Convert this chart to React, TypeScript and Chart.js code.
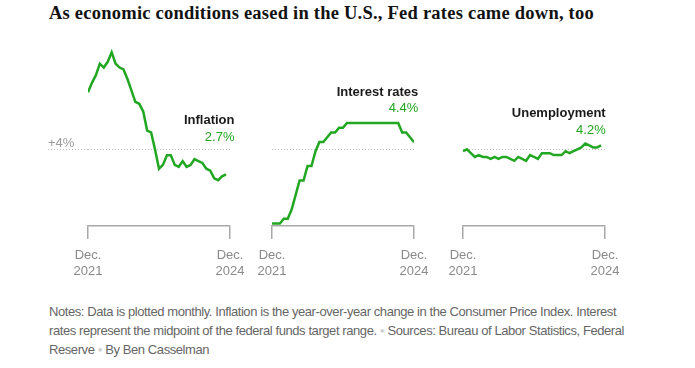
import { useEffect, useRef } from 'react';
import { Chart, registerables } from 'chart.js';

Chart.register(...registerables);

// ---------- data ----------
const months = [
  'Dec 2021',
  'Jan 2022', 'Feb 2022', 'Mar 2022', 'Apr 2022', 'May 2022', 'Jun 2022',
  'Jul 2022', 'Aug 2022', 'Sep 2022', 'Oct 2022', 'Nov 2022', 'Dec 2022',
  'Jan 2023', 'Feb 2023', 'Mar 2023', 'Apr 2023', 'May 2023', 'Jun 2023',
  'Jul 2023', 'Aug 2023', 'Sep 2023', 'Oct 2023', 'Nov 2023', 'Dec 2023',
  'Jan 2024', 'Feb 2024', 'Mar 2024', 'Apr 2024', 'May 2024', 'Jun 2024',
  'Jul 2024', 'Aug 2024', 'Sep 2024', 'Oct 2024', 'Nov 2024', 'Dec 2024',
];

// CPI, year-over-year % (Dec 2021 – Nov 2024)
const inflation = [
  7.0,
  7.5, 7.9, 8.5, 8.3, 8.6, 9.1, 8.5, 8.3, 8.2, 7.7, 7.1, 6.5,
  6.4, 6.0, 5.0, 4.9, 4.0, 3.0, 3.2, 3.7, 3.7, 3.2, 3.1, 3.4,
  3.1, 3.2, 3.5, 3.4, 3.3, 3.0, 2.9, 2.5, 2.4, 2.6, 2.7,
];

// Midpoint of federal funds target range % (Dec 2021 – Dec 2024)
const interestRates = [
  0.125,
  0.125, 0.125, 0.375, 0.375, 0.875, 1.625, 2.375, 2.375, 3.125, 3.125, 3.875, 4.375,
  4.375, 4.625, 4.875, 4.875, 5.125, 5.125, 5.375, 5.375, 5.375, 5.375, 5.375, 5.375,
  5.375, 5.375, 5.375, 5.375, 5.375, 5.375, 5.375, 5.375, 4.875, 4.875, 4.625, 4.375,
];

// Unemployment rate % (Dec 2021 – Nov 2024)
const unemployment = [
  3.9,
  4.0, 3.8, 3.6, 3.7, 3.6, 3.6, 3.5, 3.6, 3.5, 3.6, 3.6, 3.5,
  3.4, 3.6, 3.5, 3.4, 3.7, 3.6, 3.5, 3.8, 3.8, 3.8, 3.7, 3.7,
  3.7, 3.9, 3.8, 3.9, 4.0, 4.1, 4.3, 4.2, 4.1, 4.1, 4.2,
];

const panelNames = ['Inflation', 'Interest rates', 'Unemployment'];
const panelValueLabels = ['2.7%', '4.4%', '4.2%'];
const xTickLabels = [['Dec.', '2021'], ['Dec.', '2024']];
const yTickValues = [4];
const yTickLabels = ['+4%'];
const yMin = 0;
const yMax = 9.7;

// ---------- styles ----------
const GREEN = '#22a722';
const SANS = "'Liberation Sans', Arial, sans-serif";

const CANVAS_TOP = 30;
const CANVAS_H = 257;
const PAD = 30;
const AREA_W = 142;
const Y_AXIS_W = 40;

type PanelProps = {
  values: number[];
  left: number;
  showY: boolean;
};

function Panel({ values, left, showY }: PanelProps) {
  const ref = useRef<HTMLCanvasElement | null>(null);
  const width = (showY ? Y_AXIS_W : PAD) + AREA_W + PAD;

  useEffect(() => {
    if (!ref.current) return;
    const last = months.length - 1;
    const chart = new Chart(ref.current, {
      type: 'line',
      data: {
        datasets: [
          {
            data: values.map((v, i) => ({ x: i, y: v })),
            borderColor: GREEN,
            borderWidth: 2.5,
            pointRadius: 0,
            fill: false,
            tension: 0,
          },
        ],
      },
      options: {
        animation: false,
        responsive: false,
        maintainAspectRatio: false,
        events: [],
        layout: { padding: { left: showY ? 0 : PAD, right: PAD, top: 10, bottom: 0 } },
        plugins: { legend: { display: false }, tooltip: { enabled: false } },
        scales: {
          x: {
            type: 'linear',
            min: 0,
            max: last,
            afterBuildTicks: (s: any) => {
              s.ticks = [{ value: 0 }, { value: last }];
            },
            ticks: {
              callback: (v: any) => (v === 0 ? xTickLabels[0] : xTickLabels[1]),
              color: '#8a8a8a',
              font: { family: SANS, size: 13, lineHeight: 16 / 13 },
              padding: 8,
              maxRotation: 0,
              autoSkip: false,
            },
            grid: {
              drawOnChartArea: false,
              drawTicks: true,
              tickLength: 13,
              color: '#a8a8a8',
              lineWidth: 1.5,
            },
            border: { display: true, color: '#a8a8a8', width: 1.5 },
          },
          y: {
            min: yMin,
            max: yMax,
            afterBuildTicks: (s: any) => {
              s.ticks = yTickValues.map((v) => ({ value: v }));
            },
            afterFit: (s: any) => {
              s.width = showY ? Y_AXIS_W : 0;
            },
            ticks: {
              display: showY,
              callback: (_v: any, i: number) => yTickLabels[i],
              crossAlign: 'far',
              labelOffset: -6,
              color: '#9a9a9a',
              font: { family: SANS, size: 13 },
            },
            grid: {
              drawOnChartArea: true,
              drawTicks: showY,
              tickLength: Y_AXIS_W,
              color: '#bdbdbd',
              tickColor: '#bdbdbd',
              lineWidth: 1,
              tickBorderDash: [1, 2],
            },
            border: { display: false, dash: [1, 2] },
          },
        },
      } as any,
    });
    return () => chart.destroy();
  }, [values, showY]);

  return (
    <canvas
      ref={ref}
      width={width}
      height={CANVAS_H}
      style={{ position: 'absolute', left, top: CANVAS_TOP, width, height: CANVAS_H }}
    />
  );
}

const panelData = [inflation, interestRates, unemployment];
const panelCanvasLeft = [48, 242, 433];
const labelRight = [234.5, 418.3, 605.7];
const labelTop = [112, 83.6, 105.2];

export default function App() {
  const dot = <span style={{ color: '#cfcfcf', fontSize: 8, verticalAlign: '2px' }}>●</span>;
  return (
    <div
      style={{
        position: 'absolute',
        left: 0,
        top: 0,
        width: 695,
        height: 368,
        background: '#fff',
        overflow: 'hidden',
      }}
    >
      <div
        style={{
          position: 'absolute',
          left: 49,
          top: 2,
          fontFamily: "'Liberation Serif', 'Times New Roman', serif",
          fontWeight: 700,
          fontSize: 18.5,
          letterSpacing: '0.23px',
          lineHeight: '22px',
          color: '#121212',
          whiteSpace: 'nowrap',
        }}
      >
        As economic conditions eased in the U.S., Fed rates came down, too
      </div>

      {panelData.map((d, i) => (
        <Panel key={i} values={d} left={panelCanvasLeft[i]} showY={i === 0} />
      ))}

      {panelNames.map((n, i) => (
        <div
          key={n}
          style={{
            position: 'absolute',
            right: 695 - labelRight[i],
            top: labelTop[i],
            textAlign: 'right',
            fontFamily: SANS,
            fontSize: 13,
            lineHeight: '16.5px',
            whiteSpace: 'nowrap',
          }}
        >
          <div style={{ fontWeight: 700, color: '#1a1a1a' }}>{n}</div>
          <div style={{ color: GREEN }}>{panelValueLabels[i]}</div>
        </div>
      ))}

      <div
        style={{
          position: 'absolute',
          left: 49,
          top: 301.5,
          fontFamily: SANS,
          fontSize: 13,
          letterSpacing: '-0.42px',
          lineHeight: '19px',
          color: '#666',
          whiteSpace: 'nowrap',
        }}
      >
        Notes: Data is plotted monthly. Inflation is the year-over-year change in the Consumer Price Index. Interest
        <br />
        rates represent the midpoint of the federal funds target range. {dot} Sources: Bureau of Labor Statistics, Federal
        <br />
        Reserve {dot} By Ben Casselman
      </div>
    </div>
  );
}
